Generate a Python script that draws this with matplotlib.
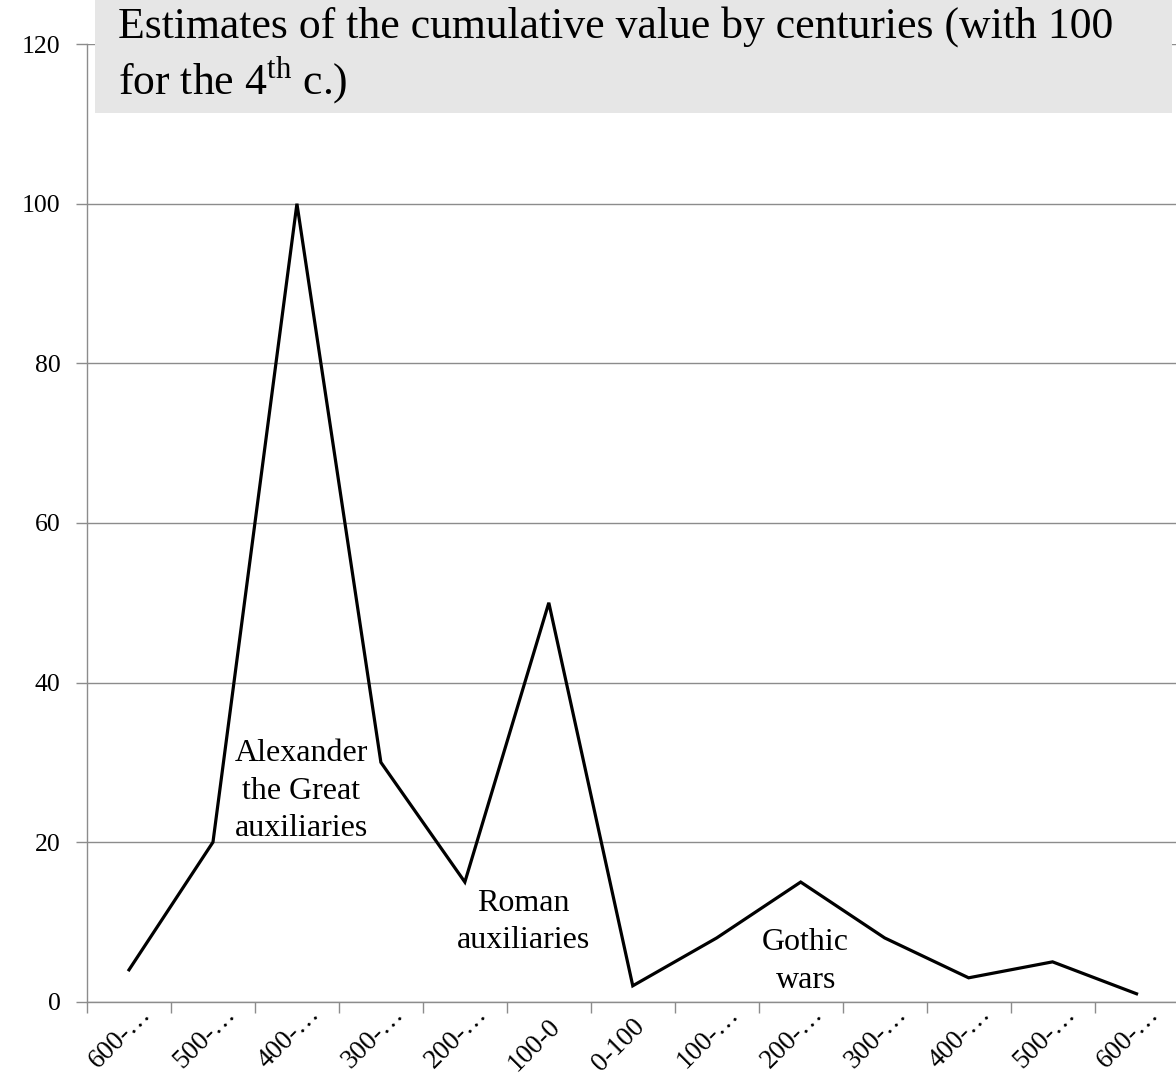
import numpy as np
import matplotlib.pyplot as plt
from matplotlib.patches import Rectangle

plt.rcParams['font.family'] = ['Liberation Serif', 'DejaVu Serif']
plt.rcParams['mathtext.fontset'] = 'custom'
plt.rcParams['mathtext.rm'] = 'Liberation Serif'

periods = ['600-…', '500-…', '400-…', '300-…', '200-…', '100-0', '0-100',
           '100-…', '200-…', '300-…', '400-…', '500-…', '600-…']
values = [4, 20, 100, 30, 15, 50, 2, 8, 15, 8, 3, 5, 1]

notes = ['Alexander\nthe Great\nauxiliaries', 'Roman\nauxiliaries', 'Gothic\nwars']
note_x = [2.05, 4.7, 8.06]
note_y = [26.4, 10.0, 5.0]

fig = plt.figure(figsize=(11.76, 10.76), dpi=100)
ax = fig.add_axes([0.074, 0.069, 0.926, 0.89])

x = np.arange(len(periods))
ax.plot(x, values, color='black', lw=2.3, solid_joinstyle='miter')

ax.set_xlim(-0.5, 12.47)
ax.set_ylim(0, 120)
ax.set_yticks(np.arange(0, 121, 20))
ax.yaxis.grid(True, color='#8c8c8c', lw=1)
ax.set_axisbelow(True)

# tick marks between categories, labels drawn separately
ax.set_xticks(np.arange(-0.5, 12.5, 1))
ax.set_xticklabels([])
ax.tick_params(axis='x', length=8, color='#8c8c8c', width=1)
ax.tick_params(axis='y', length=8, color='#8c8c8c', width=1, labelsize=18.5, pad=11)

for i, lab in enumerate(periods):
    off = (10, 0) if lab.endswith('…') else (-1, -12)
    ax.annotate(lab, xy=(i, 0), xycoords=('data', 'axes fraction'),
                xytext=off, textcoords='offset pixels', rotation=45,
                ha='right', va='top', rotation_mode='anchor', fontsize=19.5,
                annotation_clip=False)

for s in ['top', 'right']:
    ax.spines[s].set_visible(False)
for s in ['left', 'bottom']:
    ax.spines[s].set_color('#8c8c8c')
    ax.spines[s].set_linewidth(1)

for t, nx, ny in zip(notes, note_x, note_y):
    ax.text(nx, ny, t, ha='center', va='center', fontsize=23, linespacing=1.4)

fig.patches.append(Rectangle((95 / 1176, 1 - 113 / 1076), (1172 - 95) / 1176, 113 / 1076,
                             transform=fig.transFigure, facecolor='#e6e6e6',
                             edgecolor='none', zorder=5))
fig.text(118 / 1176, 1 - 6 / 1076,
         'Estimates of the cumulative value by centuries (with 100\nfor the 4$^{\\mathrm{th}}$ c.)',
         ha='left', va='top', fontsize=31.5, linespacing=1.2, zorder=6)

fig.savefig('out.png', dpi=100)
